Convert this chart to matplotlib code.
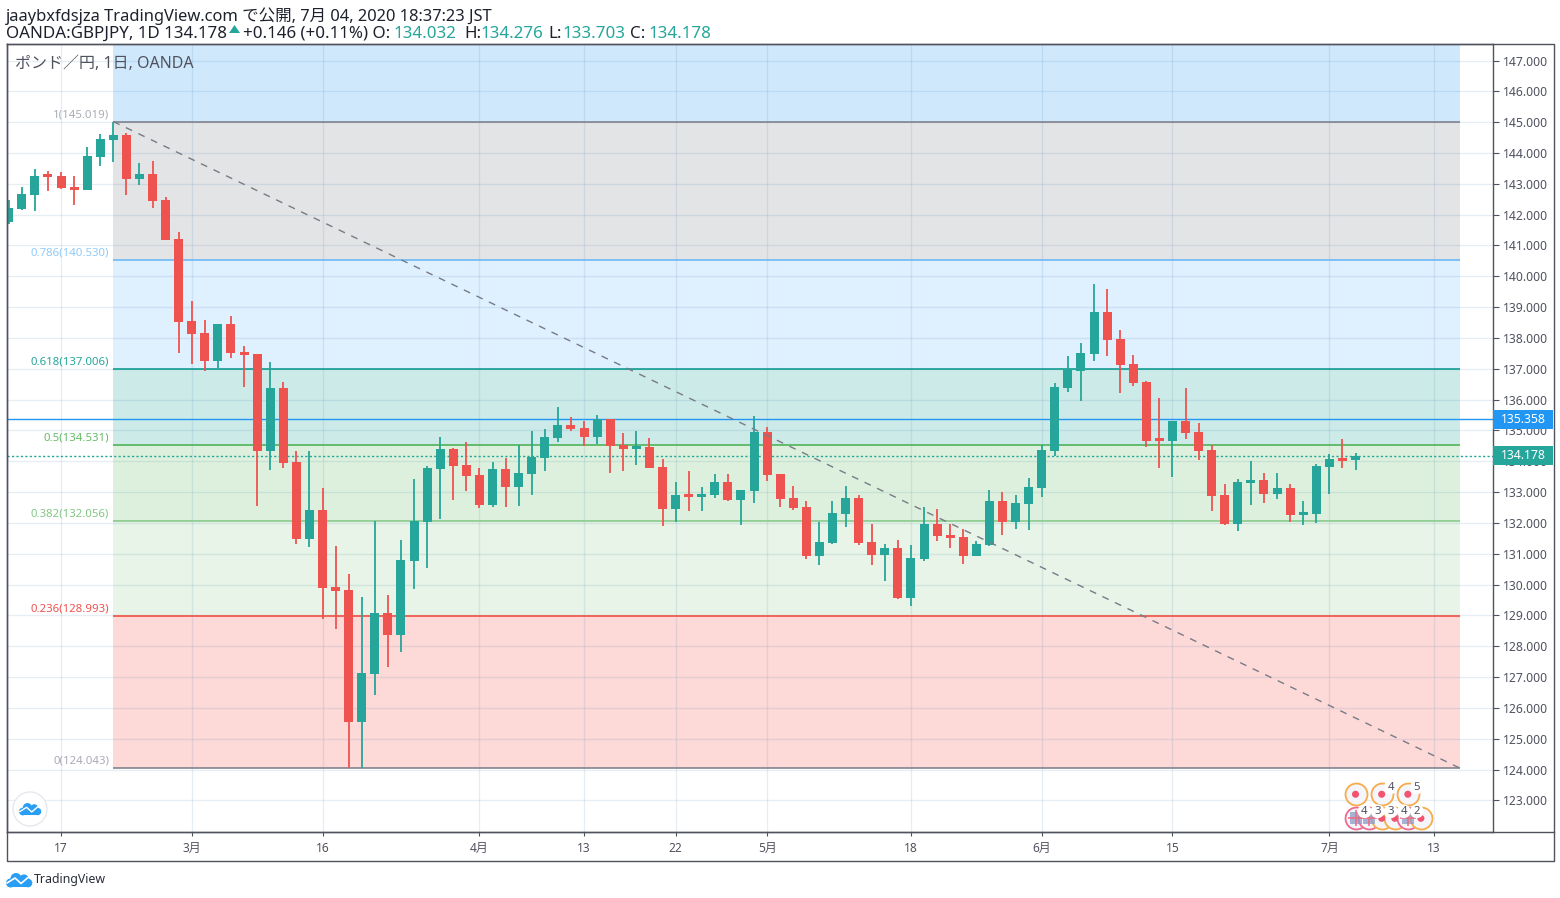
import matplotlib
matplotlib.use("Agg")
import matplotlib.pyplot as plt
from matplotlib.patches import Rectangle, Circle, Polygon
from matplotlib.transforms import blended_transform_factory

plt.rcParams['font.family'] = ['Noto Sans', 'Noto Sans CJK JP', 'DejaVu Sans']

# ---------- data ----------
open_ = [141.76,142.18,142.63,143.25,143.25,142.90,142.80,143.87,144.42,144.58,143.15,143.32,142.47,141.21,138.55,138.16,137.25,138.45,137.54,137.48,
         134.33,136.37,133.97,131.47,132.42,129.92,129.82,125.54,127.10,129.07,128.36,130.76,132.03,133.75,134.39,133.87,133.55,132.58,133.75,133.16,
         133.58,134.10,134.75,135.19,135.08,134.78,135.37,134.52,134.39,134.46,133.81,132.45,132.90,132.84,132.90,133.32,132.74,133.03,134.95,133.58,
         132.81,132.51,130.92,131.35,132.29,132.81,131.38,130.96,131.18,129.56,130.83,131.96,131.60,131.54,130.92,131.28,132.71,132.03,132.61,133.13,
         134.33,136.37,136.93,137.48,138.84,137.96,137.15,136.57,134.69,134.65,135.30,134.95,134.36,132.90,131.96,133.29,133.39,132.93,133.13,132.25,
         132.29,133.81,134.07,134.032]
high = [142.47,142.90,143.48,143.41,143.38,143.25,144.19,144.61,145.019,144.65,143.67,143.74,142.57,141.43,139.20,138.58,138.45,138.71,137.74,137.48,
        137.22,136.57,134.33,134.33,133.13,131.25,130.34,129.59,132.06,129.66,131.44,133.42,133.84,134.78,134.43,134.62,133.78,133.97,134.10,134.52,
        134.98,135.04,135.76,135.43,135.30,135.50,135.37,134.91,134.98,134.75,134.07,133.32,133.68,133.16,133.58,133.58,133.06,135.46,135.11,133.58,
        133.19,132.71,132.03,132.71,133.19,132.90,131.96,131.31,131.44,131.28,132.51,132.45,131.96,131.80,131.41,133.06,133.00,132.90,133.45,134.52,
        136.54,137.41,137.83,139.75,139.59,138.25,137.44,136.60,136.05,135.30,136.37,135.24,134.52,133.26,133.42,134.01,133.62,133.62,133.26,132.71,
        133.91,134.23,134.72,134.276]
low = [141.69,142.15,142.12,142.76,142.83,142.31,142.80,143.57,143.71,142.63,142.96,142.21,141.18,137.51,137.15,136.93,137.02,137.35,136.41,132.55,
       133.71,133.78,131.31,131.22,128.88,128.56,124.04,124.04,126.41,127.32,127.81,129.85,130.53,132.12,132.74,133.03,132.48,132.51,132.51,132.55,
       132.90,133.68,134.62,134.98,134.49,134.56,133.62,133.68,133.87,133.78,131.90,132.03,132.38,132.38,132.81,132.71,131.93,132.64,133.36,132.51,
       132.42,130.83,130.63,131.31,131.86,131.28,130.63,130.11,129.53,129.30,130.76,131.41,131.18,130.66,130.92,131.25,131.60,131.80,131.77,132.84,
       134.17,136.24,135.95,137.25,137.41,136.21,136.44,134.46,133.78,133.49,134.72,134.04,132.38,131.93,131.73,132.58,132.64,132.77,132.03,131.93,
       131.99,132.94,133.78,133.703]
close = [142.21,142.67,143.25,143.22,142.86,142.80,143.90,144.45,144.58,143.15,143.32,142.44,141.18,138.51,138.12,137.25,138.45,137.51,137.44,134.33,
         136.37,133.94,131.47,132.42,129.89,129.79,125.54,127.13,129.07,128.36,130.79,132.06,133.78,134.39,133.84,133.52,132.58,133.75,133.16,133.62,
         134.13,134.78,135.19,135.04,134.78,135.37,134.49,134.39,134.46,133.78,132.45,132.90,132.84,132.93,133.32,132.74,133.06,134.95,133.55,132.77,
         132.48,130.92,131.38,132.32,132.81,131.35,130.96,131.18,129.56,130.86,131.96,131.57,131.51,130.92,131.31,132.71,132.03,132.64,133.16,134.36,
         136.41,136.96,137.51,138.84,137.93,137.12,136.54,134.65,134.65,135.30,134.91,134.33,132.87,131.96,133.32,133.39,132.93,133.13,132.25,132.32,
         133.84,134.07,134.01,134.178]

fib_ratios = ['1', '0.786', '0.618', '0.5', '0.382', '0.236', '0']
fib_levels = [145.019, 140.530, 137.006, 134.531, 132.056, 128.993, 124.043]
fib_start, fib_end = 8, 111
ref_price = 135.358
last_price = 134.178
y_ticks = list(range(123, 148))
x_tick_pos = [4, 14, 24, 36, 44, 51, 58, 69, 79, 89, 101, 109]
x_tick_lab = ['17', '3月', '16', '4月', '13', '22', '5月', '18', '6月', '15', '7月', '13']
top_events = [103, 105, 107]
top_counts = ['', '4', '5']
bottom_events = [103, 104, 105, 106, 107, 108]
bottom_flag = [True, True, False, False, True, False]
bottom_counts = ['4', '3', '3', '4', '2', '']
top_event_price, bottom_event_price = 123.2, 122.42

# ---------- styles ----------
W, H = 1560, 898
UP, DOWN = '#26a69a', '#ef5350'
TXT = '#50535e'
band_colors = ['#cfe8fc', '#e3e4e6', '#dff0fe', '#cceae8', '#ddf0dd', '#e7f4e7', '#fdd9d8']
line_colors = ['#787b86', '#64b5f6', '#009688', '#43ae4b', '#81c784', '#f44336', '#787b86']
label_colors = ['#a9acb5', '#90caf9', '#26a69a', '#66bb6a', '#81c784', '#ef5350', '#a9acb5']
px_x = 13.076
px_y = 30.83

fig = plt.figure(figsize=(W / 100, H / 100), dpi=100, facecolor='white')
ax = fig.add_axes([7 / W, 1 - 832 / H, 1486 / W, 788 / H])
ax.set_xlim((7 - 8.7) / px_x, (1493 - 8.7) / px_x)
ax.set_ylim(147 - (832 - 60.5) / px_y, 147 + (60.5 - 44) / px_y)
ax.set_axisbelow(True)

# fib bands
edges = [ax.get_ylim()[1]] + fib_levels
for c, top, bot in zip(band_colors, edges[:-1], edges[1:]):
    ax.add_patch(Rectangle((fib_start, bot), fib_end - fib_start, top - bot, fc=c, ec='none', zorder=0.2))
for lv, c, r, lc in zip(fib_levels, line_colors, fib_ratios, label_colors):
    ax.plot([fib_start, fib_end], [lv, lv], color=c, lw=1.1, zorder=1.2, solid_capstyle='butt')
    ax.annotate(f'{r}({lv:.3f})', xy=(fib_start, lv), xytext=(-4, 7), textcoords='offset pixels',
                ha='right', va='center', fontsize=8.2, color=lc, fontweight='bold', zorder=3)

# grid + ticks
ax.yaxis.tick_right()
ax.set_yticks(y_ticks)
ax.set_yticklabels([f'{v:.3f}' for v in y_ticks])
ax.set_xticks(x_tick_pos)
ax.set_xticklabels(x_tick_lab)
ax.grid(True, color='#206da3', alpha=0.11, lw=1.0)
ax.tick_params(axis='y', length=4.5, width=0.8, color=TXT, labelcolor=TXT, labelsize=8.8, pad=2.5)
ax.tick_params(axis='x', length=3, width=0.8, color=TXT, labelcolor=TXT, labelsize=8.6, pad=4)
for s in ax.spines.values():
    s.set_color(TXT)
    s.set_linewidth(1.0)

# candles
xs = list(range(len(open_)))
cols = [UP if c >= o else DOWN for o, c in zip(open_, close)]
ax.vlines(xs, low, high, colors=cols, lw=1.3, zorder=2.2)
ax.bar(xs, [max(abs(c - o), 0.09) for o, c in zip(open_, close)],
       bottom=[min(o, c) for o, c in zip(open_, close)],
       width=9 / px_x, color=cols, lw=0, zorder=2.4)

# lines
ax.plot([fib_start, fib_end], [fib_levels[0], fib_levels[-1]], color='#787b86', lw=1.0,
        dashes=(5, 5), zorder=4)
ax.axhline(ref_price, color='#2196f3', lw=1.0, zorder=1.5)
ax.axhline(last_price, color=UP, lw=1.0, dashes=(1.6, 1.6), zorder=1.6)

# price badges
tr = blended_transform_factory(ax.transAxes, ax.transData)
for v, c in [(ref_price, '#2196f3'), (last_price, UP)]:
    ax.add_patch(Rectangle((1, v - 9.5 / px_y), 60 / 1486, 19 / px_y, transform=tr, fc=c, ec='none',
                           clip_on=False, zorder=5))
    ax.text(1 + 30 / 1486, v, f'{v:.3f}', transform=tr, color='white', fontsize=8.8, fontweight='bold',
            ha='center', va='center', zorder=6, clip_on=False)

# event markers
for x in top_events:
    ax.scatter([x], [top_event_price], s=250, fc='#f5f6fb', ec='#f7ab4a', lw=1.3, zorder=7)
    ax.scatter([x], [top_event_price], s=26, fc='#f2546f', ec='none', zorder=7.1)
for x, fl in zip(bottom_events, bottom_flag):
    ax.scatter([x], [bottom_event_price], s=250, fc='#f5f6fb', ec='#f06a8e' if fl else '#f7ab4a', lw=1.3, zorder=7)
    if fl:
        ax.scatter([x], [bottom_event_price], s=80, marker='s', c='#8c9ac8', lw=0, alpha=0.75, zorder=7.1)
        ax.scatter([x], [bottom_event_price], s=130, marker='+', c='#ef6a7c', lw=1.4, alpha=0.8, zorder=7.2)
    else:
        ax.scatter([x], [bottom_event_price], s=26, fc='#f2546f', ec='none', zorder=7.1)
for xs_, py, counts in [(top_events, top_event_price, top_counts), (bottom_events, bottom_event_price, bottom_counts)]:
    for x, n in zip(xs_, counts):
        if n:
            ax.annotate(n, xy=(x, py), xytext=(9, 7), textcoords='offset pixels', ha='center', va='center',
                        fontsize=8.2, color=TXT, zorder=8,
                        bbox=dict(boxstyle='circle,pad=0.12', fc='white', ec='none'))

# ---------- pixel overlay for page furniture ----------
ov = fig.add_axes([0, 0, 1, 1], zorder=10)
ov.set_xlim(0, W)
ov.set_ylim(H, 0)
ov.axis('off')
ov.patch.set_alpha(0)

ov.plot([7, 7, 1554, 1554, 7], [44, 861, 861, 44, 44], color=TXT, lw=1.0)
ov.plot([7, 1554], [832, 832], color=TXT, lw=1.0)

ov.text(15, 63.5, 'ポンド／円, 1日, OANDA', color=TXT, fontsize=11.5, va='center', ha='left')

HDR = '#1e222d'
ov.text(6, 16.5, 'jaaybxfdsjza TradingView.com で公開, 7月 04, 2020 18:37:23 JST', color=HDR, fontsize=11.87, va='center')
y2 = 33.5
for x, t, c in [(6, 'OANDA:GBPJPY, 1D 134.178', HDR), (243, '+0.146 (+0.11%) O:', HDR),
                (393, '134.032', UP), (464, 'H:', HDR), (480, '134.276', UP),
                (548, 'L:', HDR), (562, '133.703', UP), (630, 'C:', HDR), (648, '134.178', UP)]:
    ov.text(x, y2, t, color=c, fontsize=12.2, va='center')
ov.add_patch(Polygon([(229, 33), (240, 33), (234.5, 25)], fc=UP, ec='none'))


def cloud(cx, cy, s):
    col = '#2a9df4'
    for dx, dy, r in [(-8.5, 3, 4.5), (-3, -1.5, 5.5), (5, -1, 4.6), (9, 3, 4.3)]:
        ov.add_patch(Circle((cx + dx * s, cy + dy * s), r * s, fc=col, ec='none', zorder=12))
    ov.add_patch(Rectangle((cx - 8.5 * s, cy + 1 * s), 17.5 * s, 6.4 * s, fc=col, ec='none', zorder=12))
    ov.plot([cx - 12 * s, cx - 4 * s, cx + 2 * s, cx + 9 * s],
            [cy + 3 * s, cy - 2 * s, cy + 3.5 * s, cy - 2.5 * s], color='white', lw=1.2 * s, zorder=13)


ov.add_patch(Circle((30, 809), 17, fc='white', ec='#e6e8ee', lw=1.0, zorder=11))
cloud(30, 809, 0.85)
cloud(19, 880, 1.0)
ov.text(34, 880, 'TradingView', color='#2a2e39', fontsize=8.85, va='center')

fig.savefig('out.png', dpi=100, facecolor='white')
